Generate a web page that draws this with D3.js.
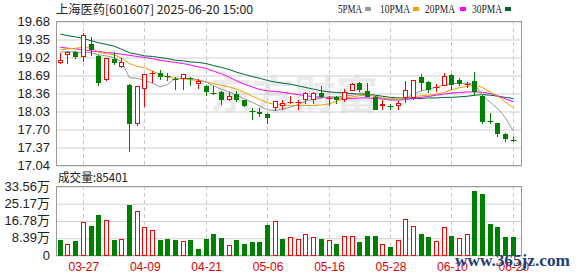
<!DOCTYPE html>
<html><head><meta charset="utf-8">
<script src="https://cdn.jsdelivr.net/npm/d3@7"></script>
<style>html,body{margin:0;padding:0;background:#fff;}svg{display:block;}</style>
</head><body>
<script>
const dates = ["03-24","03-25","03-26","03-27","03-28","03-31","04-01","04-02","04-03","04-07","04-08","04-09","04-10","04-11","04-14","04-15","04-16","04-17","04-18","04-21","04-22","04-23","04-24","04-25","04-28","04-29","04-30","05-06","05-07","05-08","05-09","05-12","05-13","05-14","05-15","05-16","05-19","05-20","05-21","05-22","05-23","05-26","05-27","05-28","05-29","05-30","06-03","06-04","06-05","06-06","06-09","06-10","06-11","06-12","06-13","06-16","06-17","06-18","06-19","06-20"];
const open = [18.91,19.05,19.11,19.02,19.26,19.03,18.60,18.98,18.83,18.51, 17.80,18.43,18.70,18.73,18.67,18.61,18.62,18.63,18.52,18.49, 18.36,18.38,18.23,18.34,18.23,18.03,18.01,17.97,18.08,18.12, 18.17,18.19,18.23,18.24,18.36,18.26,18.29,18.24,18.39,18.54, 18.40,18.28,18.12,18.13,18.12,18.26,18.26,18.65,18.56,18.46, 18.49,18.69,18.59,18.52,18.58,18.30,17.84,17.81,17.61,17.50];
const close = [18.96,19.11,19.02,19.42,19.14,18.54,19.00,18.91,18.93,17.80, 18.48,18.70,18.72,18.65,18.66,18.59,18.70,18.62,18.58,18.37, 18.35,18.24,18.30,18.24,18.12,18.02,17.97,17.91,18.21,18.18, 18.20,18.20,18.36,18.36,18.29,18.27,18.23,18.37,18.53,18.42, 18.29,18.05,18.15,18.12,18.17,18.41,18.59,18.54,18.42,18.47, 18.67,18.51,18.52,18.53,18.37,17.83,17.82,17.60,17.52,17.49];
const high = [19.09,19.12,19.13,19.46,19.39,19.05,19.01,19.11,19.00,18.53, 18.49,18.71,18.76,18.78,18.73,18.65,18.71,18.65,18.61,18.50, 18.48,18.40,18.37,18.39,18.24,18.08,18.08,17.99,18.22,18.23, 18.31,18.23,18.37,18.37,18.48,18.30,18.30,18.43,18.54,18.56, 18.54,18.30,18.23,18.16,18.21,18.58,18.60,18.71,18.58,18.53, 18.73,18.71,18.63,18.57,18.75,18.32,17.99,17.81,17.63,17.55];
const low = [18.89,18.90,18.99,18.92,19.03,18.49,18.58,18.87,18.81,17.27, 17.76,18.10,18.55,18.59,18.58,18.41,18.41,18.48,18.44,18.30, 18.32,18.14,18.22,18.20,18.10,17.86,17.92,17.80,18.03,18.04, 18.15,18.04,18.16,18.15,18.27,18.13,18.15,18.20,18.39,18.37, 18.29,18.05,18.05,18.05,18.04,18.17,18.24,18.40,18.36,18.38, 18.48,18.41,18.49,18.46,18.31,17.80,17.79,17.55,17.46,17.47];
const volume = [7.42,5.32,6.94,15.97,14.20,19.52,16.94,7.42,7.75,24.36, 21.30,13.55,12.10,7.42,7.75,7.42,6.78,7.42,2.90,7.90, 10.33,8.39,4.68,7.42,5.49,6.45,6.45,14.68,16.30,7.75, 8.55,7.75,10.17,8.71,7.75,7.26,5.49,9.20,9.20,6.45, 9.20,9.20,5.32,3.87,7.26,17.75,14.04,10.33,8.71,6.78, 13.55,9.36,8.23,10.17,30.98,29.53,15.17,13.55,8.71,8.54];
const volumeUp = [0,1,0,1,0,0,1,0,1,0, 1,1,1,0,0,0,1,0,0,0, 0,0,1,0,0,0,0,0,1,0, 1,1,1,1,0,1,0,1,1,0, 0,0,1,0,1,1,1,0,0,1, 1,0,1,1,0,0,0,0,0,0];
const ma5 = [19.11,19.12,19.11,19.10,19.10,19.06,19.04,19.01,18.93,18.64, 18.63,18.59,18.54,18.47,18.52,18.63,18.63,18.62,18.60,18.56, 18.49,18.43,18.38,18.32,18.25,18.19,18.12,18.05,18.04,18.07, 18.10,18.15,18.21,18.25,18.27,18.29,18.29,18.30,18.32,18.36, 18.35,18.30,18.26,18.24,18.23,18.26,18.34,18.40,18.43,18.47, 18.51,18.53,18.54,18.54,18.52,18.31,18.19,18.07,17.90,17.66];
const ma10 = [19.15,19.17,19.18,19.20,19.18,19.11,19.08,19.06,19.00,18.90, 18.85,18.82,18.76,18.70,18.65,18.63,18.62,18.60,18.59,18.57, 18.53,18.50,18.47,18.43,18.37,18.30,18.24,18.18,18.15,18.14, 18.13,18.13,18.13,18.13,18.14,18.16,18.21,18.26,18.29,18.31, 18.32,18.30,18.27,18.26,18.26,18.27,18.29,18.31,18.32,18.34, 18.37,18.42,18.46,18.48,18.51,18.46,18.38,18.30,18.19,18.09];
const ma20 = [19.20,19.18,19.17,19.15,19.13,19.12,19.10,19.09,19.07,19.05, 19.03,19.01,18.99,18.96,18.94,18.92,18.90,18.87,18.84,18.81, 18.76,18.71,18.65,18.58,18.52,18.47,18.42,18.40,18.39,18.37, 18.35,18.33,18.31,18.29,18.28,18.27,18.27,18.26,18.26,18.27, 18.27,18.26,18.25,18.23,18.23,18.24,18.26,18.28,18.30,18.32, 18.34,18.36,18.37,18.38,18.38,18.37,18.35,18.31,18.25,18.20];
const ma30 = [19.44,19.41,19.39,19.36,19.32,19.28,19.25,19.22,19.16,19.10, 19.07,19.04,19.03,19.01,18.99,18.96,18.95,18.93,18.92,18.90, 18.86,18.83,18.79,18.74,18.70,18.66,18.63,18.59,18.56,18.54, 18.52,18.49,18.46,18.43,18.40,18.38,18.37,18.36,18.35,18.34, 18.34,18.32,18.30,18.28,18.27,18.27,18.26,18.26,18.27,18.27, 18.28,18.28,18.29,18.30,18.32,18.33,18.32,18.30,18.28,18.26];
const priceTicks = [19.68,19.35,19.02,18.69,18.36,18.03,17.70,17.37,17.04];
const volumeTicks = [0,8.39,16.78,25.17,33.56];
const volumeTickLabels = ["0","8.39万","16.78万","25.17万","33.56万"];
const dateTickIndex = [3,11,19,27,35,43,51,59];
const maNames = ["5PMA","10PMA","20PMA","30PMA"];
const title = "上海医药[601607] 2025-06-20 15:00";
const volumeLabel = "成交量:85401";

const W=578,H=276, L=56, R=522, T=21, B=165, VT=186, VB=255;
const RED="#ff0000", GREEN="#008000";
const maColors=["#999999","#f0a000","#ff00ff","#006633"];

const svg=d3.select("body").append("svg").attr("width",W).attr("height",H);
svg.append("rect").attr("width",W).attr("height",H).attr("fill","#fff");

const x=d3.scaleLinear().domain([0,59]).range([60.3,513.3]);
const y=d3.scaleLinear().domain([17.04,19.68]).range([B,T]);
const yv=d3.scaleLinear().domain([0,33.56]).range([VB,VT]);
const cx=i=>Math.floor(x(i))+0.5;

// watermark
svg.append("text").attr("x",210).attr("y",109).attr("font-family","Noto Sans CJK SC").attr("font-weight","bold")
  .attr("font-size",40).attr("fill","#ebebeb").attr("textLength",168).attr("lengthAdjust","spacingAndGlyphs").text("东方财富");

// horizontal grids via axes
const gridP=svg.append("g").attr("transform",`translate(${L},0)`)
  .call(d3.axisLeft(y).tickValues(priceTicks).tickSize(-(R-L)).tickFormat(""));
gridP.select(".domain").remove();
gridP.selectAll("line").attr("stroke","#d0d0d0").attr("transform","translate(0,0.5)");
const gridV=svg.append("g").attr("transform",`translate(${L},0)`)
  .call(d3.axisLeft(yv).tickValues(volumeTicks).tickSize(-(R-L)).tickFormat(""));
gridV.select(".domain").remove();
gridV.selectAll("line").attr("stroke","#d0d0d0").attr("transform","translate(0,0.5)");

// vertical dashed grids
[[T,B],[VT,VB]].forEach(([a,b])=>{
  svg.append("g").selectAll("line").data(dateTickIndex).join("line")
    .attr("x1",i=>cx(i)).attr("x2",i=>cx(i)).attr("y1",a).attr("y2",b)
    .attr("stroke","#c8c8c8").attr("stroke-dasharray","4,3");
});

// frames
[[T,B],[VT,VB]].forEach(([a,b])=>{
  svg.append("rect").attr("x",L+0.5).attr("y",a+0.5).attr("width",R-L-1).attr("height",b-a)
    .attr("fill","none").attr("stroke","#999");
});

// y axis labels
const axP=svg.append("g").attr("transform",`translate(${L-3},0)`)
  .call(d3.axisLeft(y).tickValues(priceTicks).tickSize(0).tickFormat(d3.format(".2f")));
axP.select(".domain").remove();
axP.selectAll("text").attr("font-family","Liberation Sans, Arial").attr("font-size",13).attr("fill","#222");
const axV=svg.append("g").attr("transform",`translate(${L-3},0)`)
  .call(d3.axisLeft(yv).tickValues(volumeTicks).tickSize(0).tickFormat((d,i)=>volumeTickLabels[i]));
axV.select(".domain").remove();
axV.selectAll("text").attr("font-family","Liberation Sans, Arial, Noto Sans CJK SC").attr("font-size",13).attr("fill","#222");

// date labels
const axD=svg.append("g").attr("transform",`translate(0,${VB+4})`)
  .call(d3.axisBottom(x).tickValues(dateTickIndex).tickSize(0).tickFormat(i=>dates[i]));
axD.select(".domain").remove();
axD.selectAll("text").attr("font-family","Liberation Sans, Arial").attr("font-size",12).attr("fill","#e00000");

// MA lines
const mas=[ma5,ma10,ma20,ma30];
mas.slice().reverse().forEach((m,k)=>{
  const idx=3-k;
  svg.append("path").datum(m).attr("fill","none").attr("stroke",maColors[idx]).attr("stroke-width",1)
    .attr("d",d3.line().x((d,i)=>x(i)).y(d=>y(d)));
});

// candles
const idx=d3.range(dates.length);
const cg=svg.append("g");
idx.forEach(i=>{
  const up=close[i]>open[i];
  const c=cx(i);
  const top=Math.round(y(Math.max(open[i],close[i])));
  const bot=Math.round(y(Math.min(open[i],close[i])));
  const hy=Math.round(y(high[i])), ly=Math.round(y(low[i]));
  const col=up?RED:GREEN;
  if(bot-top<2){
    cg.append("line").attr("x1",c).attr("x2",c).attr("y1",hy).attr("y2",ly).attr("stroke",col);
    cg.append("line").attr("x1",c-3).attr("x2",c+3).attr("y1",top+0.5).attr("y2",top+0.5).attr("stroke",col);
  } else if(up){
    cg.append("line").attr("x1",c).attr("x2",c).attr("y1",hy).attr("y2",top).attr("stroke",col);
    cg.append("line").attr("x1",c).attr("x2",c).attr("y1",bot).attr("y2",ly).attr("stroke",col);
    cg.append("rect").attr("x",c-2).attr("y",top+0.5).attr("width",4).attr("height",bot-top-1)
      .attr("fill","#fff").attr("stroke",col);
  } else {
    cg.append("line").attr("x1",c).attr("x2",c).attr("y1",hy).attr("y2",ly).attr("stroke",col);
    cg.append("rect").attr("x",c-2.5).attr("y",top).attr("width",5).attr("height",bot-top).attr("fill",col);
  }
});

// volume bars
const vg=svg.append("g");
idx.forEach(i=>{
  const c=cx(i), t=Math.round(yv(volume[i])), b=VB+1;
  if(volumeUp[i]){
    vg.append("rect").attr("x",c-2).attr("y",t+0.5).attr("width",4).attr("height",b-t-1)
      .attr("fill","#fff").attr("stroke",RED);
  } else {
    vg.append("rect").attr("x",c-2.5).attr("y",t).attr("width",5).attr("height",b-t).attr("fill",GREEN);
  }
});

// title & legend
svg.append("text").attr("x",56).attr("y",14).attr("font-family","Noto Sans CJK SC").attr("font-size",12)
  .attr("fill","#222").attr("textLength",197).attr("lengthAdjust","spacingAndGlyphs").text(title);
const legX=[338,380,425,472], legW=[24,30,30,30], sqX=[365,413,460,505];
maNames.forEach((n,k)=>{
  svg.append("text").attr("x",legX[k]).attr("y",13).attr("font-family","Liberation Serif, DejaVu Serif").attr("font-size",12)
    .attr("fill","#222").attr("textLength",legW[k]).attr("lengthAdjust","spacingAndGlyphs").text(n);
  svg.append("rect").attr("x",sqX[k]).attr("y",7).attr("width",6).attr("height",4).attr("fill",maColors[k]);
});
svg.append("text").attr("x",58).attr("y",182).attr("font-family","Noto Sans CJK SC").attr("font-size",12)
  .attr("fill","#222").attr("textLength",70).attr("lengthAdjust","spacingAndGlyphs").text(volumeLabel);

// site watermark
svg.append("text").attr("x",455).attr("y",266).attr("font-family","Liberation Serif, DejaVu Serif").attr("font-weight","bold")
  .attr("font-size",17).attr("fill","#1f3f7a").attr("textLength",115).attr("lengthAdjust","spacingAndGlyphs").text("www.365jz.com");
</script>
</body></html>
